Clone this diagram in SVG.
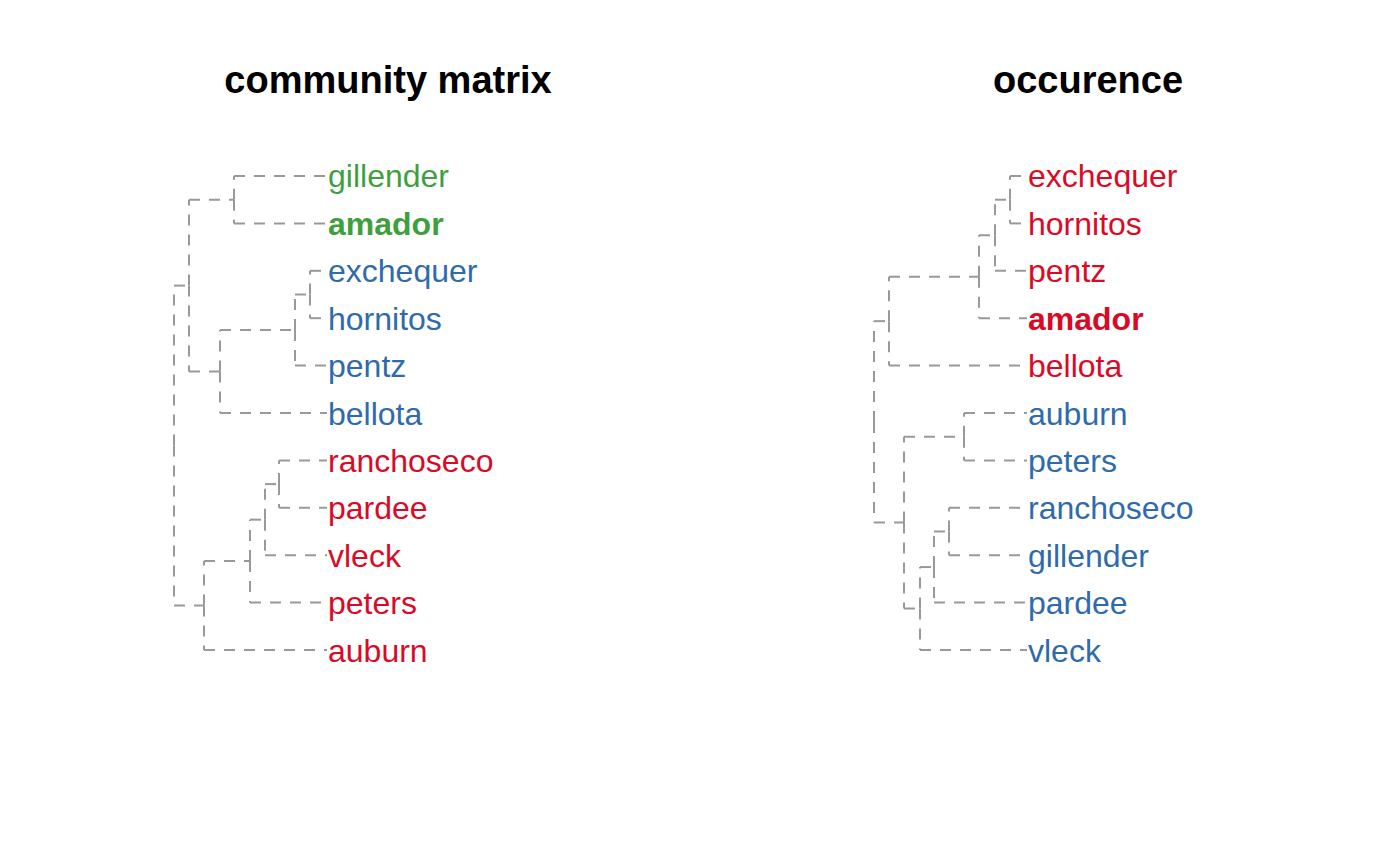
<svg xmlns="http://www.w3.org/2000/svg" width="1400" height="866" viewBox="0 0 1400 866">
<style>
.title{font-family:"Liberation Sans",Arial,sans-serif;font-weight:bold;font-size:38px;fill:#000;text-anchor:middle}
.lab{font-family:"Liberation Sans",Arial,sans-serif;font-size:32px}
.b{font-weight:bold}
.g{fill:#3f9f3f}
.bl{fill:#2f6baa}
.r{fill:#da0a26}
.c line{stroke:#999999;stroke-width:2;stroke-dasharray:11 9;fill:none}
</style>
<rect width="1400" height="866" fill="#fff"/>
<text class="title" x="388" y="93">community matrix</text>
<text class="title" x="1088" y="93">occurence</text>
<g id="connectors-left" class="c">
<line x1="174" y1="445.6" x2="174" y2="285.6"/><line x1="174" y1="285.6" x2="189" y2="285.6"/>
<line x1="174" y1="445.6" x2="174" y2="605.55"/><line x1="174" y1="605.55" x2="204" y2="605.55"/>
<line x1="189" y1="285.6" x2="189" y2="199.7"/><line x1="189" y1="199.7" x2="234" y2="199.7"/>
<line x1="189" y1="285.6" x2="189" y2="371.5"/><line x1="189" y1="371.5" x2="220" y2="371.5"/>
<line x1="234" y1="199.7" x2="234" y2="176"/><line x1="234" y1="176" x2="327" y2="176"/>
<line x1="234" y1="199.7" x2="234" y2="223.4"/><line x1="234" y1="223.4" x2="327" y2="223.4"/>
<line x1="220" y1="371.5" x2="220" y2="330.05"/><line x1="220" y1="330.05" x2="295" y2="330.05"/>
<line x1="220" y1="371.5" x2="220" y2="413"/><line x1="220" y1="413" x2="327" y2="413"/>
<line x1="295" y1="330.05" x2="295" y2="294.5"/><line x1="295" y1="294.5" x2="310" y2="294.5"/>
<line x1="295" y1="330.05" x2="295" y2="365.6"/><line x1="295" y1="365.6" x2="327" y2="365.6"/>
<line x1="310" y1="294.5" x2="310" y2="270.8"/><line x1="310" y1="270.8" x2="327" y2="270.8"/>
<line x1="310" y1="294.5" x2="310" y2="318.2"/><line x1="310" y1="318.2" x2="327" y2="318.2"/>
<line x1="204" y1="605.55" x2="204" y2="561.1"/><line x1="204" y1="561.1" x2="250" y2="561.1"/>
<line x1="204" y1="605.55" x2="204" y2="650"/><line x1="204" y1="650" x2="327" y2="650"/>
<line x1="250" y1="561.1" x2="250" y2="519.65"/><line x1="250" y1="519.65" x2="265" y2="519.65"/>
<line x1="250" y1="561.1" x2="250" y2="602.6"/><line x1="250" y1="602.6" x2="327" y2="602.6"/>
<line x1="265" y1="519.65" x2="265" y2="484.1"/><line x1="265" y1="484.1" x2="279" y2="484.1"/>
<line x1="265" y1="519.65" x2="265" y2="555.2"/><line x1="265" y1="555.2" x2="327" y2="555.2"/>
<line x1="279" y1="484.1" x2="279" y2="460.4"/><line x1="279" y1="460.4" x2="327" y2="460.4"/>
<line x1="279" y1="484.1" x2="279" y2="507.8"/><line x1="279" y1="507.8" x2="327" y2="507.8"/>
</g>
<g id="connectors-right" class="c">
<line x1="874" y1="421.9" x2="874" y2="321.15"/><line x1="874" y1="321.15" x2="889" y2="321.15"/>
<line x1="874" y1="421.9" x2="874" y2="522.6"/><line x1="874" y1="522.6" x2="904" y2="522.6"/>
<line x1="889" y1="321.15" x2="889" y2="276.7"/><line x1="889" y1="276.7" x2="979" y2="276.7"/>
<line x1="889" y1="321.15" x2="889" y2="365.6"/><line x1="889" y1="365.6" x2="1027" y2="365.6"/>
<line x1="979" y1="276.7" x2="979" y2="235.25"/><line x1="979" y1="235.25" x2="995" y2="235.25"/>
<line x1="979" y1="276.7" x2="979" y2="318.2"/><line x1="979" y1="318.2" x2="1027" y2="318.2"/>
<line x1="995" y1="235.25" x2="995" y2="199.7"/><line x1="995" y1="199.7" x2="1010" y2="199.7"/>
<line x1="995" y1="235.25" x2="995" y2="270.8"/><line x1="995" y1="270.8" x2="1027" y2="270.8"/>
<line x1="1010" y1="199.7" x2="1010" y2="176"/><line x1="1010" y1="176" x2="1027" y2="176"/>
<line x1="1010" y1="199.7" x2="1010" y2="223.4"/><line x1="1010" y1="223.4" x2="1027" y2="223.4"/>
<line x1="904" y1="522.6" x2="904" y2="436.7"/><line x1="904" y1="436.7" x2="964" y2="436.7"/>
<line x1="904" y1="522.6" x2="904" y2="608.5"/><line x1="904" y1="608.5" x2="920" y2="608.5"/>
<line x1="964" y1="436.7" x2="964" y2="413"/><line x1="964" y1="413" x2="1027" y2="413"/>
<line x1="964" y1="436.7" x2="964" y2="460.4"/><line x1="964" y1="460.4" x2="1027" y2="460.4"/>
<line x1="920" y1="608.5" x2="920" y2="567.05"/><line x1="920" y1="567.05" x2="934" y2="567.05"/>
<line x1="920" y1="608.5" x2="920" y2="650"/><line x1="920" y1="650" x2="1027" y2="650"/>
<line x1="934" y1="567.05" x2="934" y2="531.5"/><line x1="934" y1="531.5" x2="949" y2="531.5"/>
<line x1="934" y1="567.05" x2="934" y2="602.6"/><line x1="934" y1="602.6" x2="1027" y2="602.6"/>
<line x1="949" y1="531.5" x2="949" y2="507.8"/><line x1="949" y1="507.8" x2="1027" y2="507.8"/>
<line x1="949" y1="531.5" x2="949" y2="555.2"/><line x1="949" y1="555.2" x2="1027" y2="555.2"/>
</g>
<g id="left-leaves">
<g id="L-gillender"><text class="lab g" x="328" y="187">gillender</text></g>
<g id="L-amador"><text class="lab g b" x="328" y="235">amador</text></g>
<g id="L-exchequer"><text class="lab bl" x="328" y="282">exchequer</text></g>
<g id="L-hornitos"><text class="lab bl" x="328" y="330">hornitos</text></g>
<g id="L-pentz"><text class="lab bl" x="328" y="377">pentz</text></g>
<g id="L-bellota"><text class="lab bl" x="328" y="425">bellota</text></g>
<g id="L-ranchoseco"><text class="lab r" x="328" y="472">ranchoseco</text></g>
<g id="L-pardee"><text class="lab r" x="328" y="519">pardee</text></g>
<g id="L-vleck"><text class="lab r" x="328" y="567">vleck</text></g>
<g id="L-peters"><text class="lab r" x="328" y="614">peters</text></g>
<g id="L-auburn"><text class="lab r" x="328" y="662">auburn</text></g>
</g>
<g id="right-leaves">
<g id="R-exchequer"><text class="lab r" x="1028" y="187">exchequer</text></g>
<g id="R-hornitos"><text class="lab r" x="1028" y="235">hornitos</text></g>
<g id="R-pentz"><text class="lab r" x="1028" y="282">pentz</text></g>
<g id="R-amador"><text class="lab r b" x="1028" y="330">amador</text></g>
<g id="R-bellota"><text class="lab r" x="1028" y="377">bellota</text></g>
<g id="R-auburn"><text class="lab bl" x="1028" y="425">auburn</text></g>
<g id="R-peters"><text class="lab bl" x="1028" y="472">peters</text></g>
<g id="R-ranchoseco"><text class="lab bl" x="1028" y="519">ranchoseco</text></g>
<g id="R-gillender"><text class="lab bl" x="1028" y="567">gillender</text></g>
<g id="R-pardee"><text class="lab bl" x="1028" y="614">pardee</text></g>
<g id="R-vleck"><text class="lab bl" x="1028" y="662">vleck</text></g>
</g>
</svg>
